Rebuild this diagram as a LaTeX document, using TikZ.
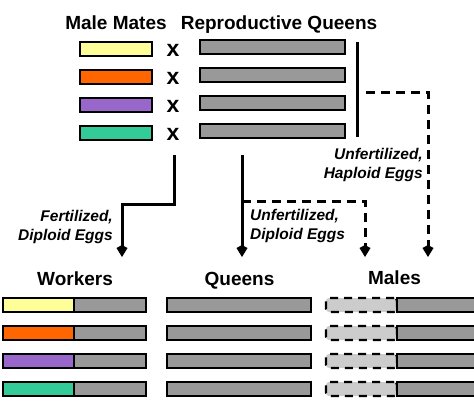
\documentclass[tikz,border=0pt]{standalone}
\usepackage{fontspec}
\setmainfont{Liberation Sans}
\usepackage{xcolor}
\usetikzlibrary{positioning,calc,arrows.meta}

\definecolor{mateyellow}{HTML}{FFFF99}
\definecolor{mateorange}{HTML}{FF6600}
\definecolor{matepurple}{HTML}{9966CC}
\definecolor{mategreen}{HTML}{33CC99}
\definecolor{chromgray}{HTML}{999999}
\definecolor{ghostgray}{HTML}{CCCCCC}

\tikzset{
  bar/.style={draw=black, line width=2.2pt, minimum height=14pt, inner sep=0pt, outer sep=0pt},
  ghost/.style={bar, fill=ghostgray, dash pattern=on 8pt off 6pt, rounded corners=3pt},
  title/.style={font=\bfseries\fontsize{19}{19}\selectfont, inner sep=0pt, anchor=base},
  cross/.style={font=\bfseries\fontsize{23}{23}\selectfont, inner sep=0pt, anchor=base},
  eggs/.style={font=\bfseries\itshape\fontsize{15.5}{18.5}\selectfont, inner sep=0pt},
  line/.style={line width=3pt},
  egg arrow/.style={line, -{Kite[length=12pt,width=11pt,inset=3pt]}},
  dashline/.style={egg arrow, dash pattern=on 9pt off 6pt}
}

\begin{document}
\begin{tikzpicture}[x=1pt,y=-1pt]
  \useasboundingbox (0,0) rectangle (474,402);

  % parents
  \node[title] (matestitle) at (116,29) {Male Mates};
  \node[title] (queenstitle) at (279,29) {Reproductive Queens};
  \foreach \c [count=\i] in {mateyellow,mateorange,matepurple,mategreen} {
    \node[bar, fill=\c, minimum width=72pt] (mate\i) at (116,{49+28*(\i-1)}) {};
    \node[cross] (cross\i) at (173,{56.5+28*(\i-1)}) {x};
    \node[bar, fill=chromgray, minimum width=145pt] (queen\i) at (272.5,{47+28*(\i-1)}) {};
  }
  \draw[line] (357,42) -- (357,137);

  % offspring
  \node[title] (workerstitle) at (75,285.5) {Workers};
  \node[title] (newqtitle) at (239.5,285.5) {Queens};
  \node[title] (malestitle) at (394.5,284) {Males};
  \foreach \c [count=\i] in {mateyellow,mateorange,matepurple,mategreen} {
    \node[bar, fill=\c, minimum width=71pt] (wkm\i) at (38.5,{305+28*(\i-1)}) {};
    \node[bar, fill=chromgray, minimum width=72pt, right=0pt of wkm\i] (wkq\i) {};
    \node[bar, fill=chromgray, minimum width=144pt] (newq\i) at (239,{305+28*(\i-1)}) {};
    \node[ghost, minimum width=71pt] (maleghost\i) at (361.5,{305+28*(\i-1)}) {};
    \node[bar, fill=chromgray, minimum width=83pt, right=0pt of maleghost\i] (male\i) {};
  }

  % egg paths
  \coordinate (fert) at (174,155);
  \coordinate (dipl) at (242,155);
  \coordinate (hapl) at (357,92);
  \coordinate (toworkers) at (122,257);
  \coordinate (toqueens) at (242,257);
  \coordinate (tomalesdipl) at (365,257);
  \coordinate (tomaleshapl) at (428,257);

  \draw[egg arrow] (fert) -- ++(0,49) -| (toworkers);
  \draw[egg arrow] (dipl) -- (toqueens);
  \draw[dashline] ($(dipl)+(0,46)$) -| (tomalesdipl);
  \draw[dashline] ($(hapl)+(9,0)$) -| (tomaleshapl);

  \node[eggs, align=right, anchor=east] (fertlabel) at (113,227) {Fertilized,\\Diploid Eggs};
  \node[eggs, align=left, anchor=west] (dipllabel) at (250,226) {Unfertilized,\\Diploid Eggs};
  \node[eggs, align=right, anchor=east] (hapllabel) at (423,165) {Unfertilized,\\Haploid Eggs};
\end{tikzpicture}
\end{document}
